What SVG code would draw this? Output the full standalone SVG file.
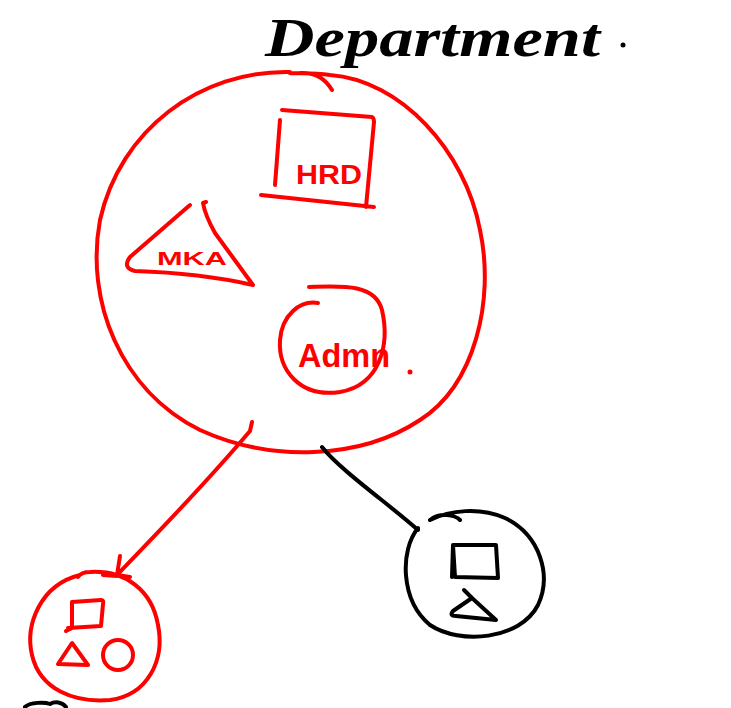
<svg xmlns="http://www.w3.org/2000/svg" width="731" height="708" viewBox="0 0 731 708">
<style>
.r{fill:none;stroke:#ff0000;stroke-width:4;stroke-linecap:round;stroke-linejoin:round}
.k{fill:none;stroke:#000;stroke-width:4;stroke-linecap:round;stroke-linejoin:round}
.rt{fill:#ff0000;font-family:"Liberation Sans",Arial,sans-serif;font-weight:bold}
.kt{fill:#000;font-family:"Liberation Serif","DejaVu Serif",serif;font-style:italic;font-weight:bold}
</style>
<rect width="731" height="708" fill="#fff"/>
<g id="title">
<text class="kt" x="265" y="56" font-size="54" textLength="335" lengthAdjust="spacingAndGlyphs">Department</text>
<circle cx="623" cy="45" r="2.5" fill="#000"/>
</g>
<g id="department">
<path class="r" d="M290,72 C200,70 120,130 100,220 C85,300 120,390 200,430 C270,462 360,460 420,420 C475,385 495,300 480,230 C465,150 400,80 330,75 C310,72 295,74 290,73 M300,73 C315,72 325,78 332,90"/>
<g id="hrd">
<path class="r" d="M282,110 L372,117 Q374,118 374,122 L366,207 M280,120 L275,185 M261,195 L374,207"/>
<text class="rt" x="296" y="184" font-size="27" textLength="66" lengthAdjust="spacingAndGlyphs">HRD</text>
</g>
<g id="mka">
<path class="r" d="M190,205 L130,257 Q122,268 135,271 Q200,273 253,285 L215,233 Q205,215 203,203 L206,202"/>
<text class="rt" x="157" y="265" font-size="19" textLength="70" lengthAdjust="spacingAndGlyphs">MKA</text>
</g>
<g id="admn">
<path class="r" d="M309,287 C340,286 375,283 382,310 C390,345 380,385 340,392 C300,398 278,370 280,340 C282,315 300,300 318,303"/>
<text class="rt" x="298" y="367" font-size="34" font-weight="normal" textLength="92" lengthAdjust="spacingAndGlyphs">Admn</text>
<circle cx="410" cy="372" r="2.5" fill="#ff0000"/>
</g>
</g>
<g id="child-red">
<path class="r" d="M80,575 C40,585 25,625 32,655 C40,690 75,703 110,700 C148,695 165,660 158,625 C152,590 125,570 90,572 C85,572 80,574 78,577"/>
<path class="r" d="M72,602 L101,600 Q104,600 103,604 L101,626 L68,628 M72,602 L72,628 L66,631"/>
<path class="r" d="M72,643 L58,664 L88,665 Z"/>
<circle class="r" cx="118" cy="655" r="15"/>
</g>
<g id="child-black">
<path class="k" d="M418,528 C400,550 400,600 430,625 C460,645 520,640 538,605 C552,575 540,535 505,518 C480,507 450,510 430,520 M430,520 C440,512 455,515 460,520"/>
<path class="k" d="M453,545 L496,545 L498,578 L455,577 L453,545 L452,577"/>
<path class="k" d="M464,590 L472,598 M472,598 L453,611 Q449,616 456,616 L496,620 Z"/>
</g>
<g id="connectors">
<path class="r" d="M252,422 L250,431 C200,490 160,530 117,575 M120,556 L117,575 L130,577 M103,575 L117,576"/>
<path class="k" d="M322,447 C340,470 390,505 418,530"/>
</g>
<path class="k" d="M25,707 C30,702 45,702 50,704 C55,701 62,702 66,707"/>
</svg>
